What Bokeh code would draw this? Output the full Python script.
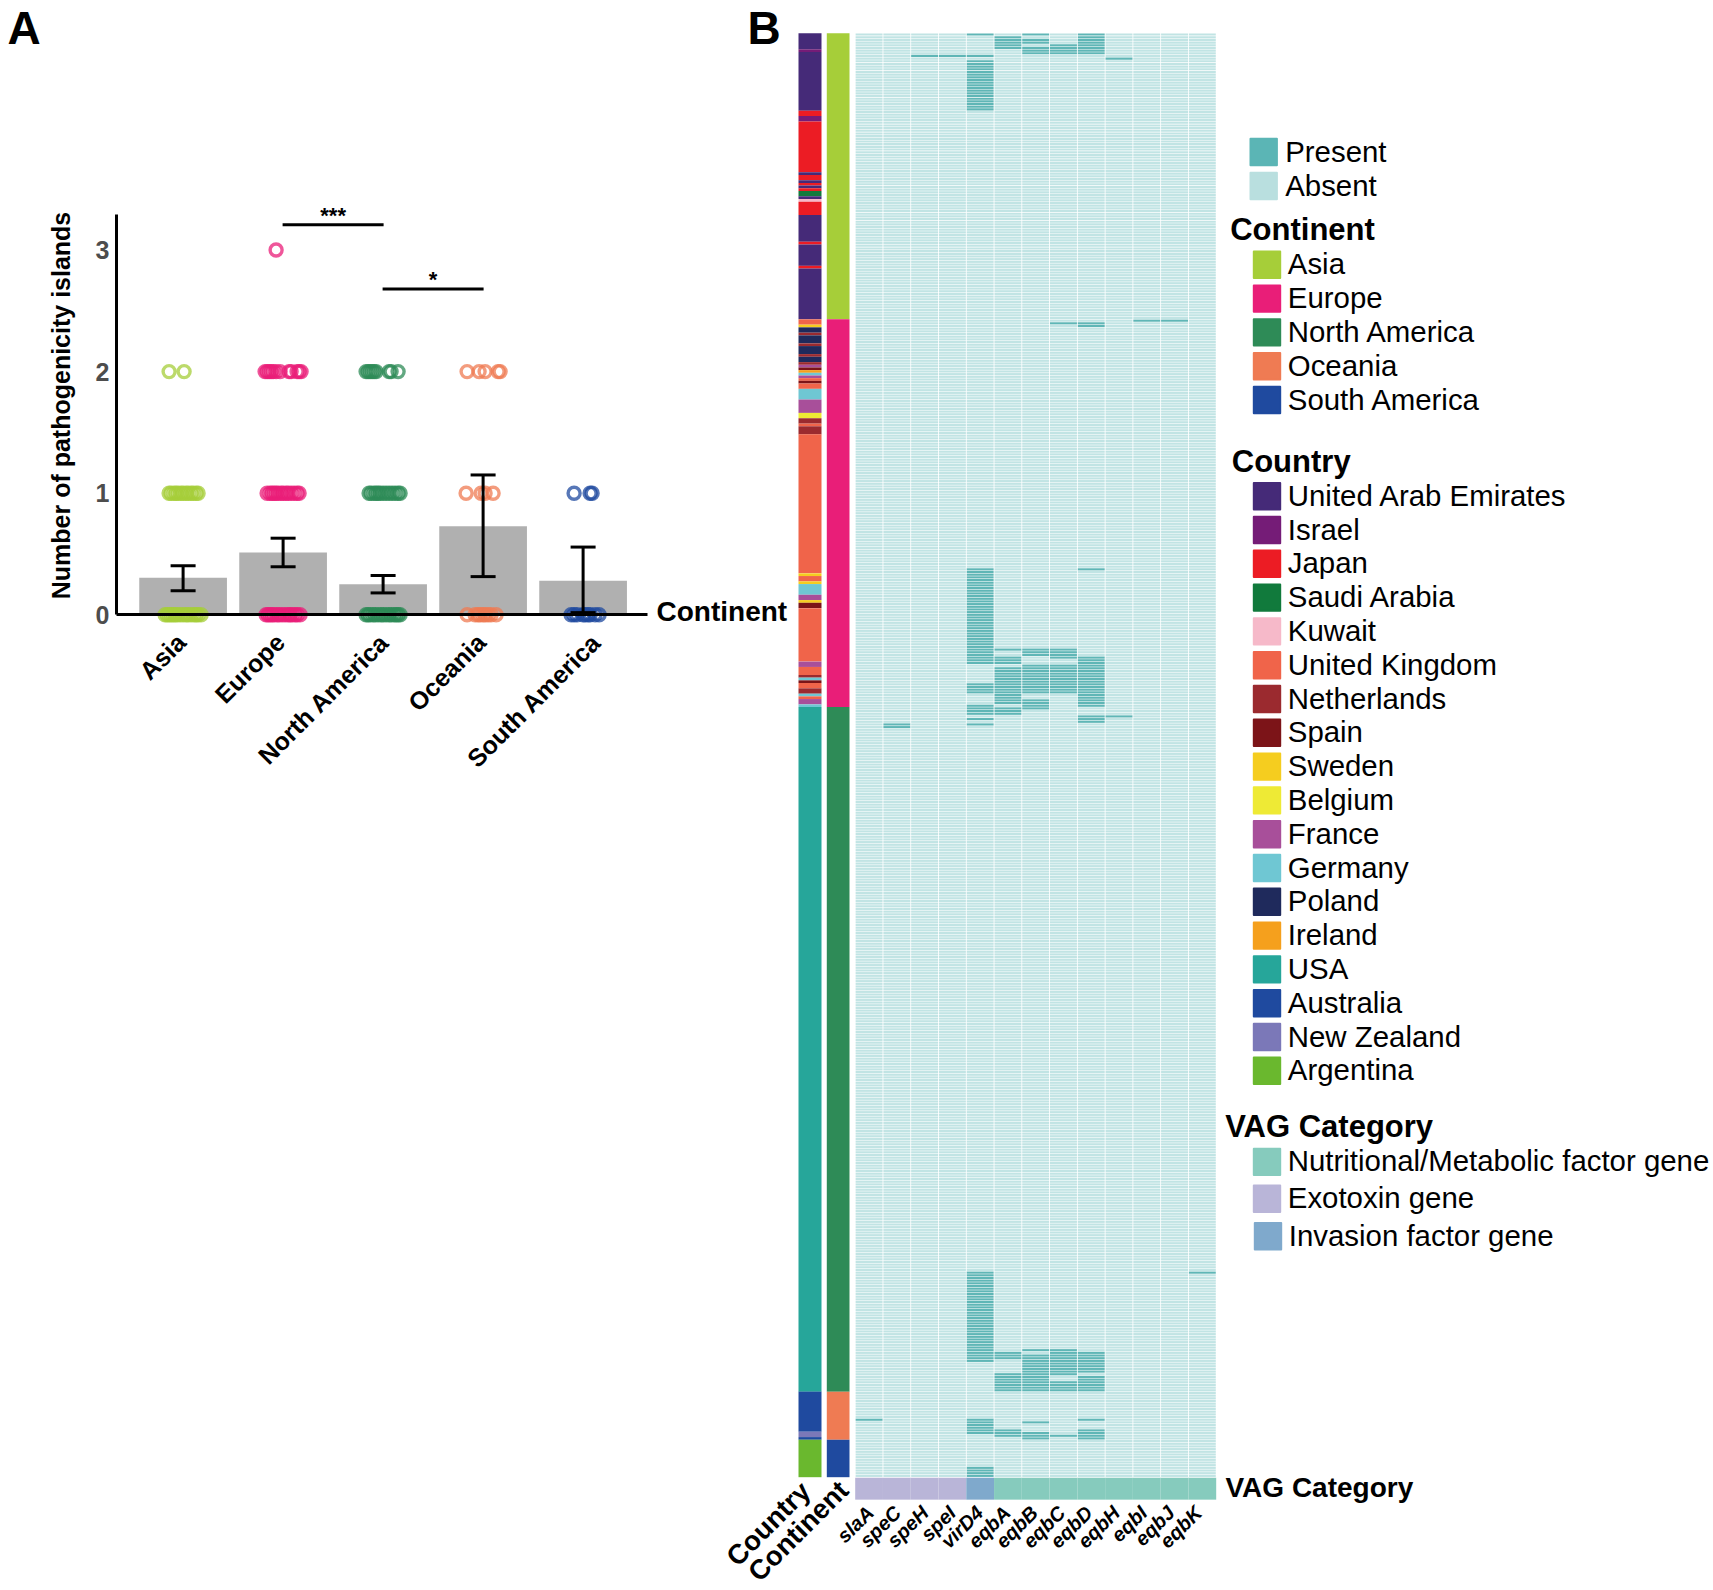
from bokeh.plotting import figure
from bokeh.layouts import row
from bokeh.embed import file_html
from bokeh.resources import INLINE
from bokeh.core.properties import value
from bokeh.models import Range1d, FixedTicker, LinearAxis
import math

FONT = "Liberation Sans"

# ---------- panel A data ----------
continents = ["Asia", "Europe", "North America", "Oceania", "South America"]
continent_colors = ["#a6ce39", "#e91e78", "#2e8b57", "#ef7b53", "#1f4a9f"]
bar_means = [0.305, 0.512, 0.252, 0.728, 0.279]
err_high = [0.404, 0.63, 0.323, 1.15, 0.557]
err_low = [0.198, 0.395, 0.18, 0.314, 0.018]

pts_y0 = [
    [-0.18, -0.16, -0.14, -0.12, -0.10, -0.08, -0.06, -0.03, 0.0, 0.03, 0.05, 0.08, 0.11, 0.13, 0.15, 0.18],
    [-0.17, -0.15, -0.13, -0.11, -0.09, -0.06, -0.04, -0.01, 0.02, 0.05, 0.07, 0.09, 0.12, 0.14, 0.17],
    [-0.17, -0.15, -0.13, -0.10, -0.08, -0.05, -0.02, 0.0, 0.03, 0.06, 0.08, 0.11, 0.13, 0.15, 0.17],
    [-0.16, -0.08, -0.05, -0.03, 0.0, 0.02, 0.05, 0.08, 0.13],
    [-0.12, -0.09, -0.06, 0.0, 0.02, 0.05, 0.07, 0.12, 0.16],
]
pts_y1 = [
    [-0.14, -0.12, -0.09, -0.07, -0.05, -0.02, 0.0, 0.03, 0.05, 0.08, 0.10, 0.13, 0.15],
    [-0.16, -0.13, -0.11, -0.09, -0.07, -0.05, -0.02, 0.0, 0.03, 0.05, 0.08, 0.11, 0.14, 0.16],
    [-0.14, -0.12, -0.09, -0.07, -0.05, -0.03, 0.0, 0.03, 0.06, 0.09, 0.12, 0.15, 0.17],
    [-0.17, -0.02, 0.02, 0.10],
    [-0.09, 0.07, 0.09],
]
pts_y2 = [
    [-0.14, 0.01],
    [-0.18, -0.16, -0.14, -0.12, -0.10, -0.07, -0.03, 0.06, 0.08, 0.14, 0.16, 0.18],
    [-0.17, -0.15, -0.13, -0.11, -0.09, -0.07, 0.06, 0.08, 0.15],
    [-0.16, -0.04, 0.02, 0.15, 0.17],
    [],
]
pts_y3 = [[], [-0.07], [], [], []]
sig_bars = [(1, 2, 3.207, "***"), (2, 3, 2.68, "*")]
label_shift = [-2, -3, 1, -2, 13]

# ---------- panel B data ----------
genes = ["slaA", "speC", "speH", "speI", "virD4", "eqbA", "eqbB", "eqbC", "eqbD", "eqbH", "eqbI", "eqbJ", "eqbK"]
n_rows = 540
present_runs = {
    "slaA": [(518, 519)],
    "speC": [(258, 260)],
    "speH": [(8, 9)],
    "speI": [(8, 9)],
    "virD4": [(0, 1), (8, 9), (10, 29), (200, 236), (243, 247), (251, 255), (256, 257), (258, 259),
              (463, 497), (518, 524), (536, 540)],
    "eqbA": [(1, 6), (230, 231), (233, 236), (237, 251), (252, 255), (493, 496), (501, 508), (522, 525)],
    "eqbB": [(0, 1), (2, 4), (5, 8), (230, 233), (236, 247), (249, 253), (492, 493), (494, 508), (519, 520), (523, 526)],
    "eqbC": [(4, 8), (108, 109), (230, 234), (236, 247), (492, 502), (504, 508), (524, 525)],
    "eqbD": [(0, 8), (108, 110), (200, 201), (233, 252), (255, 258), (493, 501), (502, 508), (518, 519), (522, 526)],
    "eqbH": [(9, 10), (255, 256)],
    "eqbI": [(107, 108)],
    "eqbJ": [(107, 108)],
    "eqbK": [(463, 464)],
}
gene_categories = ["Exotoxin gene"] * 4 + ["Invasion factor gene"] + ["Nutritional/Metabolic factor gene"] * 8
category_colors = {"Nutritional/Metabolic factor gene": "#86cbbd", "Exotoxin gene": "#b9b5d8", "Invasion factor gene": "#7fa9cc"}

country_colors = {
    "United Arab Emirates": "#452a78", "Israel": "#751c77", "Japan": "#ec1c24", "Saudi Arabia": "#117a3c",
    "Kuwait": "#f6b9c9", "United Kingdom": "#f0644a", "Netherlands": "#9b2a2f", "Spain": "#7c1418",
    "Sweden": "#f5cd1f", "Belgium": "#eeea35", "France": "#a84f9a", "Germany": "#6fc7d3",
    "Poland": "#1f2a5c", "Ireland": "#f5a01d", "USA": "#26a69a", "Australia": "#1f4a9f",
    "New Zealand": "#7b78b8", "Argentina": "#6ab82e",
}
country_runs = [
    ("United Arab Emirates", 6), ("Israel", 1), ("United Arab Emirates", 22), ("Japan", 2), ("Israel", 2),
    ("Japan", 19), ("United Arab Emirates", 1), ("Japan", 2), ("United Arab Emirates", 1), ("Japan", 1),
    ("United Arab Emirates", 1), ("Japan", 1), ("Saudi Arabia", 2), ("United Arab Emirates", 1), ("Kuwait", 1),
    ("Japan", 5), ("United Arab Emirates", 10), ("Japan", 1), ("United Arab Emirates", 8), ("Japan", 1),
    ("United Arab Emirates", 19),
    ("United Kingdom", 2), ("Sweden", 1), ("Poland", 2), ("Netherlands", 1), ("Poland", 3), ("Netherlands", 1),
    ("Poland", 3), ("Netherlands", 1), ("Poland", 2), ("Netherlands", 1), ("France", 1), ("Spain", 1),
    ("Ireland", 1), ("Germany", 1), ("France", 1), ("United Kingdom", 1), ("Spain", 1), ("United Kingdom", 2),
    ("Germany", 4), ("France", 5), ("Belgium", 2), ("Netherlands", 2), ("United Kingdom", 1), ("Netherlands", 3),
    ("United Kingdom", 52), ("Sweden", 1), ("United Kingdom", 2), ("Sweden", 1), ("Germany", 4), ("France", 2),
    ("Sweden", 1), ("Spain", 2), ("United Kingdom", 20), ("France", 2), ("United Kingdom", 3), ("Netherlands", 1),
    ("Germany", 1), ("Spain", 1), ("United Kingdom", 2), ("Netherlands", 2), ("Germany", 1), ("United Kingdom", 1),
    ("France", 2), ("Germany", 1),
    ("USA", 256), ("Australia", 15), ("New Zealand", 2), ("Australia", 1), ("Argentina", 14),
]
continent_runs = [107, 145, 256, 18, 14]

presence_legend = [("Present", "#5bb5b5"), ("Absent", "#b9dfdf")]

# ---------- panel A ----------
W_A, H = 650, 1590
PX_UNIT_X, PX_UNIT_Y = 100.0, 121.6
X0_PX, Y0_PX = 182.6, 614.3            # figure pixel of category 0 / value 0
def ax(px): return (px - X0_PX) / PX_UNIT_X
def ay(px): return (Y0_PX - px) / PX_UNIT_Y

pa = figure(width=W_A, height=H, output_backend="svg", toolbar_location=None,
            x_range=Range1d(ax(0), ax(W_A)), y_range=Range1d(ay(H), ay(0)),
            min_border=0, min_border_left=0, min_border_right=0, min_border_top=0, min_border_bottom=0,
            x_axis_type=None, y_axis_type=None, outline_line_color=None)
pa.grid.visible = False

idx = list(range(5))
pa.vbar(x=idx, top=bar_means, bottom=0, width=0.877, fill_color="#b0b0b0", line_color=None)

for yv, table in [(0, pts_y0), (1, pts_y1), (2, pts_y2), (3, pts_y3)]:
    for i, offs in enumerate(table):
        if offs:
            pa.scatter(x=[i + o for o in offs], y=[yv] * len(offs), marker="circle", size=12,
                       fill_color=None, line_color=continent_colors[i], line_alpha=0.75, line_width=3.4)

pa.segment(x0=idx, x1=idx, y0=err_low, y1=err_high, line_color="black", line_width=3)
pa.segment(x0=[i - 0.125 for i in idx], x1=[i + 0.125 for i in idx], y0=err_high, y1=err_high, line_color="black", line_width=3)
pa.segment(x0=[i - 0.125 for i in idx], x1=[i + 0.125 for i in idx], y0=err_low, y1=err_low, line_color="black", line_width=3)

for a, b, lvl, star in sig_bars:
    pa.segment(x0=[a - 0.005], x1=[b + 0.005], y0=[lvl], y1=[lvl], line_color="black", line_width=3)
    pa.text(x=[(a + b) / 2], y=[lvl + 0.03], text=[star], text_font=value(FONT), text_font_style="bold",
            text_font_size="22px", text_align="center", text_baseline="middle", text_color="black",
            y_offset=[-6])

xax = LinearAxis(ticker=FixedTicker(ticks=[]))
xax.fixed_location = 0
xax.bounds = (ax(115.8), ax(647))
xax.axis_line_color = "black"
xax.axis_line_width = 3
xax.major_tick_line_color = None
xax.minor_tick_line_color = None
pa.add_layout(xax, "below")

pa.text(x=idx, y=[0] * 5, text=continents, x_offset=label_shift, y_offset=[23] * 5, angle=math.pi / 4,
        text_font=value(FONT), text_font_style="bold", text_font_size="25px", text_align="right",
        text_baseline="middle", text_color="black")

yax = LinearAxis(ticker=FixedTicker(ticks=[0, 1, 2, 3]))
yax.fixed_location = ax(115.8)
yax.bounds = (0, 3.29)
yax.axis_line_color = "black"
yax.axis_line_width = 3
yax.major_tick_line_color = None
yax.minor_tick_line_color = None
yax.major_label_text_font = FONT
yax.major_label_text_font_size = "25px"
yax.major_label_text_font_style = "bold"
yax.major_label_text_color = "#4d4d4d"
yax.major_label_standoff = 1
pa.add_layout(yax, "left")

pa.text(x=[ax(60.5)], y=[ay(405)], text=["Number of pathogenicity islands"], angle=math.pi / 2,
        text_font=value(FONT), text_font_style="bold", text_font_size="25px", text_align="center",
        text_baseline="middle", text_color="black")
pa.text(x=[ax(7)], y=[ay(27)], text=["A"], text_font=value(FONT), text_font_style="bold",
        text_font_size="46px", text_align="left", text_baseline="middle", text_color="black")

# ---------- panel B ----------
W_B = 1063
PX_L, PX_R, PX_T, PX_B = 650, 1713, 0, 1590   # page pixels covered by this figure
HEAT_L, HEAT_R, HEAT_T, HEAT_B = 854.7, 1215.7, 32.7, 1476.7
col_px = (HEAT_R - HEAT_L) / len(genes)
row_px = (HEAT_B - HEAT_T) / n_rows

pb = figure(width=W_B, height=H, output_backend="svg", toolbar_location=None,
            x_range=Range1d(PX_L, PX_R), y_range=Range1d(PX_B, PX_T),
            min_border=0, min_border_left=0, min_border_right=0, min_border_top=0, min_border_bottom=0,
            x_axis_type=None, y_axis_type=None, outline_line_color=None)
pb.grid.visible = False
pb.extra_x_ranges["col"] = Range1d((PX_L - HEAT_L) / col_px, (PX_R - HEAT_L) / col_px)
pb.extra_y_ranges["row"] = Range1d((PX_B - HEAT_T) / row_px, (PX_T - HEAT_T) / row_px)

PRESENT_FILL, ABSENT_FILL = "#5fb6b6", "#c1e4e4"
GAP_X, GAP_Y = 0.015, 0.2
lefts, rights, tops, bottoms, fills = [], [], [], [], []
for c, g in enumerate(genes):
    runs = present_runs[g]
    for r in range(n_rows):
        on = any(a <= r < b for a, b in runs)
        lefts.append(c + GAP_X); rights.append(c + 1 - GAP_X)
        tops.append(r + GAP_Y / 2); bottoms.append(r + 1 - GAP_Y / 2)
        fills.append(PRESENT_FILL if on else ABSENT_FILL)
pb.quad(left=lefts, right=rights, top=tops, bottom=bottoms, fill_color=fills, line_color=None,
        x_range_name="col", y_range_name="row")

# annotation strips
CTRY_L, CTRY_R = (798 - HEAT_L) / col_px, (821 - HEAT_L) / col_px
CONT_L, CONT_R = (826.3 - HEAT_L) / col_px, (849 - HEAT_L) / col_px
pos = 0
s0, s1, cc = [], [], []
for name, n in country_runs:
    s0.append(pos); s1.append(pos + n); cc.append(country_colors[name]); pos += n
pb.quad(left=CTRY_L, right=CTRY_R, top=s0, bottom=s1, fill_color=cc, line_color=None,
        x_range_name="col", y_range_name="row")
pos = 0
s0, s1 = [], []
for n in continent_runs:
    s0.append(pos); s1.append(pos + n); pos += n
pb.quad(left=CONT_L, right=CONT_R, top=s0, bottom=s1, fill_color=continent_colors, line_color=None,
        x_range_name="col", y_range_name="row")
VAG_T, VAG_B = n_rows + 0.2, n_rows + 8.4
pb.quad(left=list(range(len(genes))), right=list(range(1, len(genes) + 1)), top=VAG_T, bottom=VAG_B,
        fill_color=[category_colors[k] for k in gene_categories], line_color=None,
        x_range_name="col", y_range_name="row")

# gene labels
pb.text(x=[i * 0.985 + 0.54 for i in range(len(genes))], y=[n_rows + 12] * len(genes), text=genes, angle=math.pi / 4,
        text_font=value(FONT), text_font_style="bold italic", text_font_size="20px", text_align="right",
        text_baseline="middle", text_color="black", x_range_name="col", y_range_name="row")

def txt(x, y, s, size, bold=False, angle=0.0, align="left"):
    pb.text(x=[x], y=[y], text=[s], angle=angle, text_font=value(FONT), text_font_style="bold" if bold else "normal",
            text_font_size=size, text_align=align, text_baseline="middle", text_color="black")

def swatch(x, y, color):
    pb.quad(left=[x + 1], right=[x + 27.4], top=[y - 13.2], bottom=[y + 13.2], fill_color=color,
            line_color=color, line_width=2, line_join="round")

LEG_SIZE = "29.4px"
txt(747, 27, "B", "46px", True)
txt(656, 611, "Continent", "28px", True)
txt(805, 1486, "Country", "27.5px", True, math.pi / 4, "right")
txt(843, 1485, "Continent", "27.5px", True, math.pi / 4, "right")
txt(1225, 1487, "VAG Category", "28px", True)

for (name, color), y in zip(presence_legend, [151.5, 185.5]):
    swatch(1249, y, color)
    txt(1284.7, y - 1, name, LEG_SIZE)

txt(1229.7, 229, "Continent", "31px", True)
for i, (name, color) in enumerate(zip(continents, continent_colors)):
    y = 264.3 + 33.8 * i
    swatch(1252.3, y, color)
    txt(1287.3, y - 1, name, LEG_SIZE)

txt(1231.3, 460.7, "Country", "31px", True)
for i, (name, color) in enumerate(country_colors.items()):
    y = 495.7 + 33.8 * i
    swatch(1252.3, y, color)
    txt(1287.3, y - 1, name, LEG_SIZE)

txt(1224.7, 1126, "VAG Category", "31px", True)
for (name, y, dx) in [("Nutritional/Metabolic factor gene", 1161.4, 0), ("Exotoxin gene", 1198.2, 0), ("Invasion factor gene", 1235.7, 1)]:
    swatch(1252.3 + dx, y, category_colors[name])
    txt(1287.3 + dx, y - 1, name, LEG_SIZE)

layout = row(pa, pb)
open("out.html", "w").write(file_html(layout, INLINE))
